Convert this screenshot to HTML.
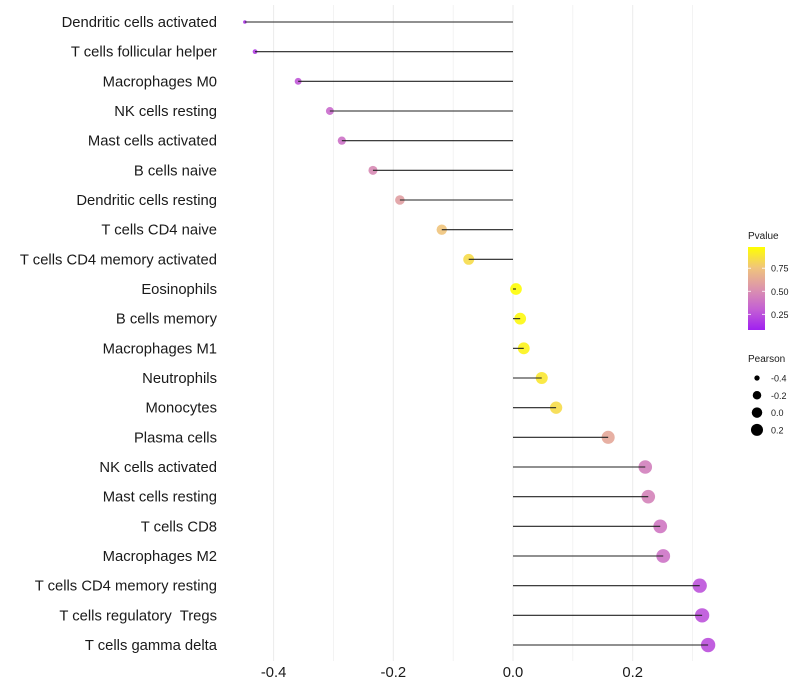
<!DOCTYPE html>
<html><head><meta charset="utf-8">
<style>
html,body{margin:0;padding:0;background:#fff;}
svg{display:block;font-family:"Liberation Sans",sans-serif;}
text{white-space:pre;}
</style></head>
<body>
<svg id="chart" width="800" height="700">
<defs>
<linearGradient id="pgrad" x1="0" y1="1" x2="0" y2="0">
<stop offset="0" stop-color="#a020f0"/>
<stop offset="0.25" stop-color="#c460d4"/>
<stop offset="0.5" stop-color="#dc94ac"/>
<stop offset="0.75" stop-color="#f0c47c"/>
<stop offset="1" stop-color="#ffff00"/>
</linearGradient>
</defs>
<g id="grid"></g>
<g id="marks"></g>
<g id="ylabels"></g>
<g id="xlabels"></g>
<g>
<text x="748" y="239" font-size="10" fill="#1a1a1a">Pvalue</text>
<rect x="748" y="247" width="17" height="83" fill="url(#pgrad)"/>
<g id="cbticks"></g>
</g>
<g>
<text x="748" y="362" font-size="10" fill="#1a1a1a">Pearson</text>
<g id="sizeleg"></g>
</g>
</svg>
<script>
const categories=["Dendritic cells activated","T cells follicular helper","Macrophages M0","NK cells resting","Mast cells activated","B cells naive","Dendritic cells resting","T cells CD4 naive","T cells CD4 memory activated","Eosinophils","B cells memory","Macrophages M1","Neutrophils","Monocytes","Plasma cells","NK cells activated","Mast cells resting","T cells CD8","Macrophages M2","T cells CD4 memory resting","T cells regulatory  Tregs","T cells gamma delta"];
const pearson=[-0.448,-0.431,-0.359,-0.306,-0.286,-0.234,-0.189,-0.119,-0.074,0.005,0.012,0.018,0.048,0.072,0.159,0.221,0.226,0.246,0.251,0.312,0.316,0.326];
const pvalue=[0.08,0.12,0.22,0.3,0.33,0.45,0.55,0.75,0.85,0.99,0.97,0.95,0.9,0.85,0.6,0.4,0.42,0.36,0.34,0.2,0.2,0.18];
const xTicks=[-0.4,-0.2,0,0.2];
const xTickLabels=["-0.4","-0.2","0.0","0.2"];
const gridVals=[-0.4,-0.3,-0.2,-0.1,0,0.1,0.2,0.3];
const cbTicks=[0.25,0.5,0.75];
const cbTickLabels=["0.25","0.50","0.75"];
const sizeLegVals=[-0.4,-0.2,0,0.2];
const sizeLegLabels=["-0.4","-0.2","0.0","0.2"];

const NS="http://www.w3.org/2000/svg";
const X=v=>513+v*598.5;
const Y=i=>22+i*29.667;
const R=v=>1.5+5.7*Math.sqrt(Math.max(0,(v+0.45)/0.78));
const CB=p=>330-(p-0.08)*(83/0.9);
function lerp(a,b,t){return Math.round(a+(b-a)*t);}
const stops=[[0,[160,32,240]],[0.25,[196,96,212]],[0.5,[220,148,172]],[0.75,[240,196,124]],[1,[255,255,0]]];
function col(p){p=Math.max(0,Math.min(1,p));for(let i=0;i<stops.length-1;i++){const[a,ca]=stops[i],[b,cb]=stops[i+1];if(p<=b){const t=(p-a)/(b-a);return `rgb(${lerp(ca[0],cb[0],t)},${lerp(ca[1],cb[1],t)},${lerp(ca[2],cb[2],t)})`;}}return "#ff0";}
function mk(tag,attrs,parent){const e=document.createElementNS(NS,tag);for(const k in attrs)e.setAttribute(k,attrs[k]);parent.appendChild(e);return e;}

const grid=document.getElementById('grid');
gridVals.forEach(v=>{
const l=mk('line',{x1:X(v),x2:X(v),y1:5,y2:661,stroke:'#ebebeb','stroke-width':Math.abs(v*10)%2<0.01?1:0.6},grid);


});
const marks=document.getElementById('marks');
const yl=document.getElementById('ylabels');
categories.forEach((c,i)=>{
const y=Y(i);
const pt=mk('circle',{cx:X(pearson[i]),cy:y,r:R(pearson[i]),fill:col(pvalue[i]),'fill-opacity':0.9},marks);


const seg=mk('line',{x1:X(0),x2:X(pearson[i]),y1:y,y2:y,stroke:'#222','stroke-width':1.1},marks);


const t=mk('text',{x:217,y:y+5,'text-anchor':'end','font-size':14.8,fill:'#1a1a1a'},yl);
t.textContent=c;


});
const xl=document.getElementById('xlabels');
xTicks.forEach((v,i)=>{
const t=mk('text',{x:X(v),y:677,'text-anchor':'middle','font-size':14.8,fill:'#1a1a1a'},xl);
t.textContent=xTickLabels[i];


});
const cbt=document.getElementById('cbticks');
cbTicks.forEach((p,i)=>{
const y=CB(p);
mk('line',{x1:748,x2:751,y1:y,y2:y,stroke:'#fff','stroke-width':0.8},cbt);
mk('line',{x1:762,x2:765,y1:y,y2:y,stroke:'#fff','stroke-width':0.8},cbt);
const t=mk('text',{x:771,y:y+3.5,'font-size':9,fill:'#1a1a1a'},cbt);
t.textContent=cbTickLabels[i];


});
const sl=document.getElementById('sizeleg');
sizeLegVals.forEach((v,i)=>{
const y=378+i*17.3;
const c=mk('circle',{cx:757,cy:y,r:R(v)*0.9,fill:'#000'},sl);


const t=mk('text',{x:771,y:y+3.5,'font-size':9,fill:'#1a1a1a'},sl);
t.textContent=sizeLegLabels[i];


});
</script>
</body></html>
